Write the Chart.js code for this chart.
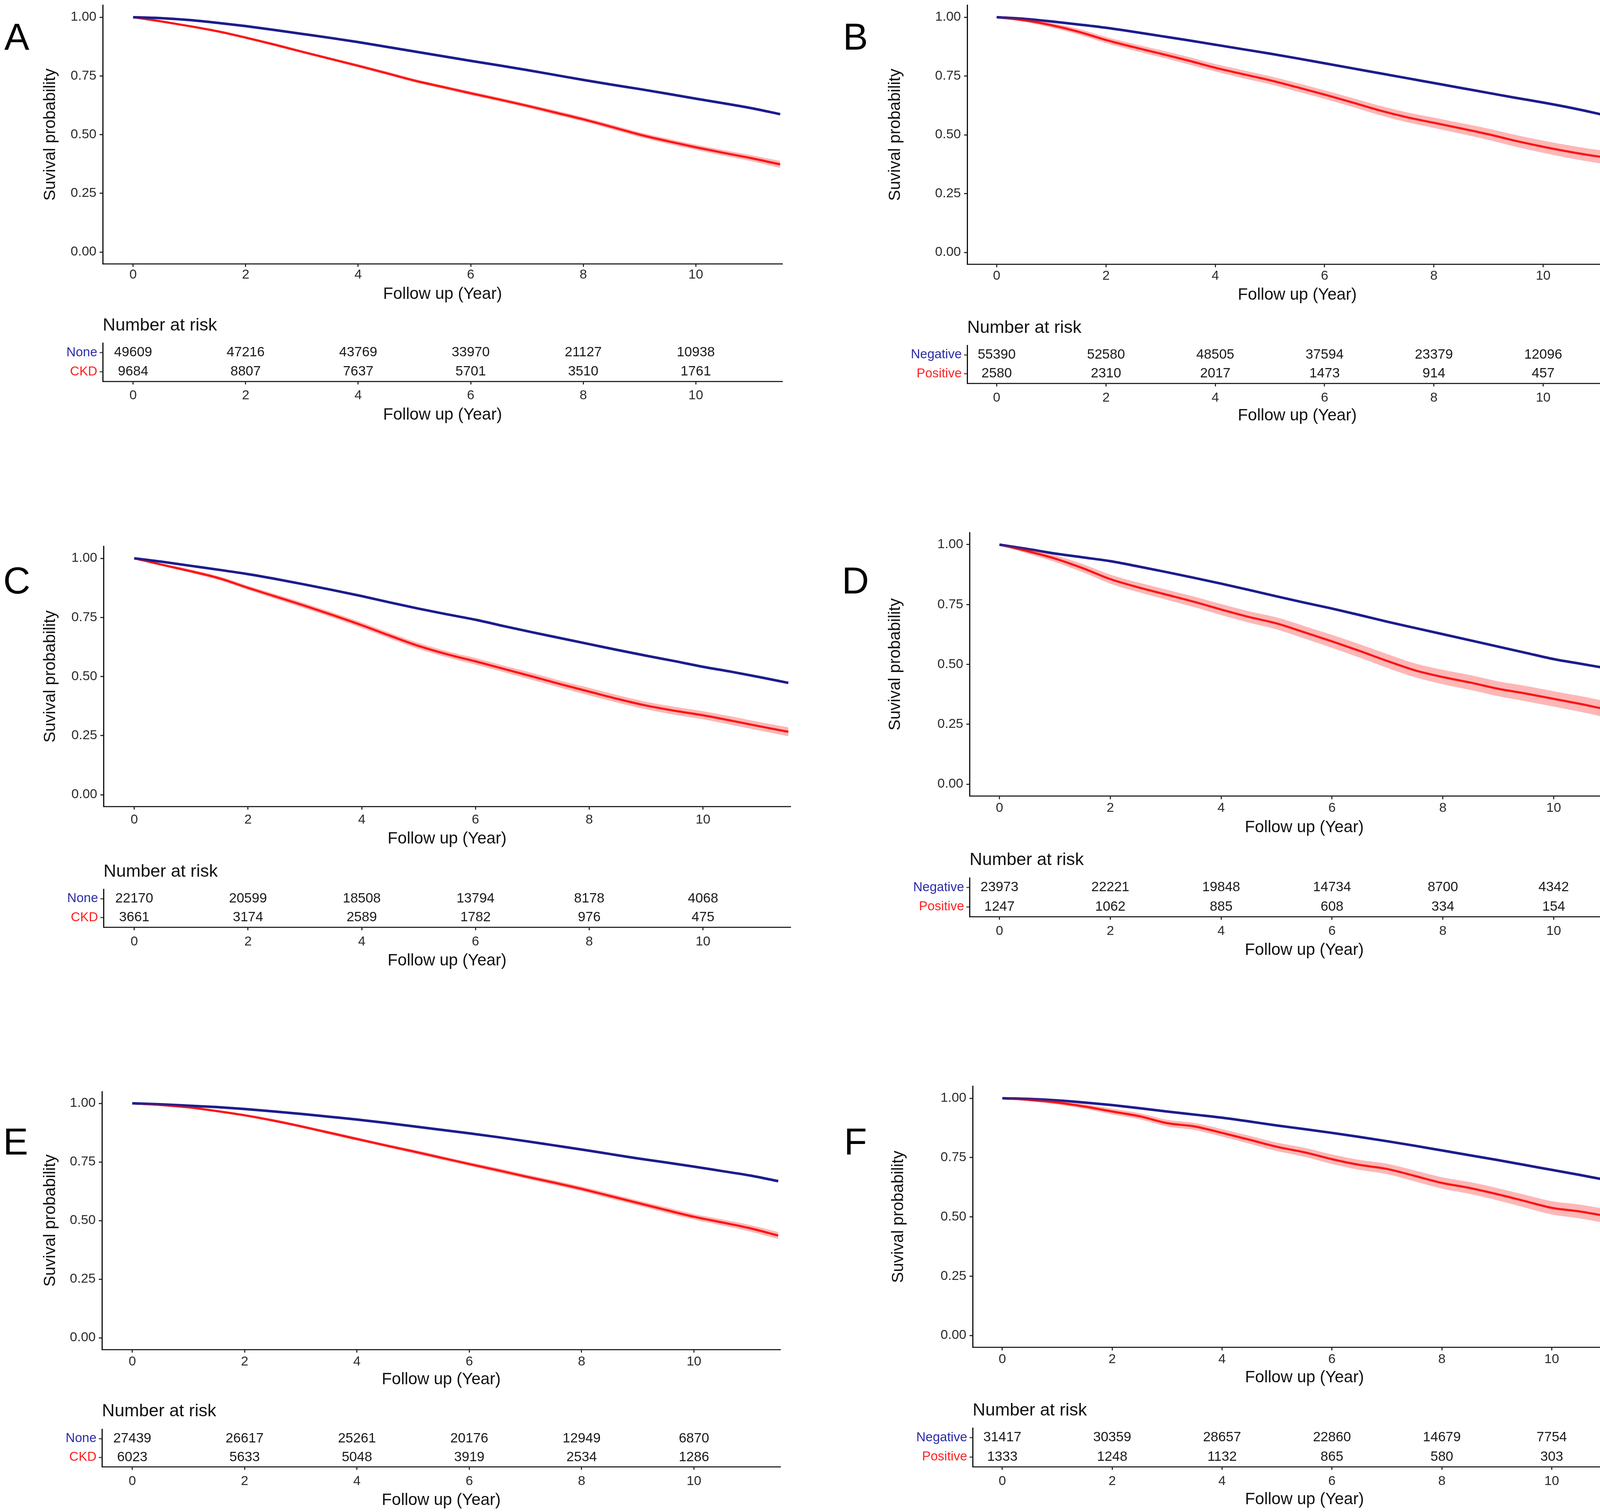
<!DOCTYPE html>
<html><head><meta charset="utf-8">
<script src="https://cdn.jsdelivr.net/npm/chart.js@4.4.0/dist/chart.umd.min.js"></script>
<style>
html,body{margin:0;padding:0;background:#fff;}
#page{position:relative;width:4212px;height:3870px;overflow:hidden;background:#fff;font-family:'Liberation Sans',Arial,sans-serif;}
canvas{position:absolute;}
.letter{position:absolute;transform:translate(-50%,-50%);line-height:1;color:#000;font-size:96px;}
.nar{position:absolute;transform:translateY(-50%);line-height:1;color:#111;font-size:45px;white-space:nowrap;}
</style></head><body><div id="page"></div>
<script>
// ---------------- DATA ----------------
const times = [0,0.5,1,1.5,2,2.5,3,3.5,4,4.5,5,5.5,6,6.5,7,7.5,8,8.5,9,9.5,10,10.5,11,11.5];
const xTicks = [0,2,4,6,8,10];
const yTicks = [0,0.25,0.5,0.75,1];
const riskTimes = [0,2,4,6,8,10];
const panelLetters = ['A','B','C','D','E','F'];
const groupsCKD = ['None','CKD'];
const groupsPN = ['Negative','Positive'];

const survA_ref = [1.000,0.996,0.988,0.976,0.962,0.946,0.929,0.912,0.894,0.874,0.854,0.834,0.814,0.795,0.775,0.754,0.733,0.713,0.694,0.674,0.653,0.633,0.612,0.587];
const survA_grp = [1.000,0.982,0.962,0.940,0.913,0.884,0.853,0.823,0.793,0.762,0.730,0.703,0.676,0.650,0.623,0.594,0.565,0.533,0.500,0.472,0.446,0.422,0.399,0.373];
const ciA = [0,0.003,0.004,0.005,0.005,0.006,0.006,0.006,0.007,0.007,0.007,0.007,0.008,0.008,0.008,0.009,0.009,0.010,0.010,0.011,0.011,0.012,0.013,0.015];

const survB_ref = [1.000,0.993,0.982,0.969,0.955,0.938,0.920,0.902,0.883,0.864,0.845,0.825,0.804,0.783,0.762,0.741,0.720,0.699,0.678,0.657,0.637,0.615,0.590,0.562];
const survB_grp = [1.000,0.987,0.966,0.938,0.903,0.873,0.845,0.816,0.785,0.758,0.732,0.702,0.671,0.638,0.604,0.575,0.551,0.527,0.502,0.474,0.449,0.427,0.408,0.393];
const ciB = [0,0.007,0.010,0.012,0.013,0.014,0.015,0.016,0.016,0.017,0.017,0.018,0.018,0.019,0.020,0.021,0.022,0.023,0.024,0.025,0.026,0.027,0.028,0.030];

const survC_ref = [1.000,0.985,0.968,0.951,0.933,0.912,0.889,0.865,0.840,0.813,0.787,0.763,0.740,0.713,0.687,0.662,0.637,0.612,0.588,0.565,0.541,0.520,0.497,0.473];
const survC_grp = [1.000,0.972,0.945,0.915,0.875,0.837,0.799,0.759,0.717,0.672,0.629,0.594,0.564,0.532,0.500,0.467,0.436,0.405,0.377,0.355,0.336,0.313,0.289,0.266];
const ciC = [0,0.005,0.007,0.008,0.009,0.010,0.011,0.011,0.012,0.012,0.013,0.013,0.014,0.014,0.015,0.015,0.016,0.016,0.016,0.017,0.017,0.018,0.018,0.019];

const survD_ref = [1.000,0.982,0.963,0.947,0.931,0.909,0.886,0.862,0.837,0.811,0.784,0.758,0.733,0.706,0.678,0.652,0.626,0.600,0.574,0.548,0.522,0.502,0.482,0.461];
const survD_grp = [1.000,0.973,0.942,0.902,0.856,0.822,0.792,0.762,0.729,0.698,0.671,0.634,0.596,0.556,0.514,0.475,0.447,0.424,0.398,0.378,0.356,0.334,0.310,0.293];
const ciD = [0,0.010,0.014,0.017,0.019,0.020,0.021,0.022,0.023,0.024,0.025,0.026,0.027,0.028,0.029,0.029,0.030,0.031,0.031,0.032,0.032,0.033,0.034,0.035];

const survE_ref = [1.000,0.996,0.990,0.984,0.976,0.966,0.955,0.943,0.931,0.917,0.902,0.887,0.872,0.856,0.839,0.821,0.803,0.784,0.765,0.748,0.730,0.711,0.692,0.668];
const survE_grp = [1.000,0.993,0.983,0.967,0.949,0.927,0.902,0.875,0.848,0.821,0.795,0.768,0.741,0.715,0.688,0.662,0.635,0.605,0.575,0.545,0.516,0.492,0.467,0.436];
const ciE = [0,0.003,0.004,0.005,0.005,0.006,0.006,0.007,0.007,0.007,0.008,0.008,0.008,0.009,0.009,0.010,0.010,0.011,0.011,0.012,0.012,0.013,0.014,0.015];

const survF_ref = [1.000,0.997,0.991,0.982,0.971,0.958,0.944,0.931,0.918,0.902,0.885,0.870,0.854,0.837,0.819,0.800,0.780,0.760,0.740,0.719,0.698,0.677,0.655,0.634];
const survF_grp = [1.000,0.993,0.982,0.965,0.944,0.924,0.895,0.881,0.854,0.825,0.795,0.772,0.743,0.719,0.702,0.673,0.643,0.622,0.596,0.567,0.538,0.523,0.503,0.486];
const ciF = [0,0.006,0.008,0.010,0.012,0.013,0.014,0.015,0.016,0.017,0.018,0.019,0.020,0.021,0.022,0.023,0.024,0.025,0.026,0.027,0.028,0.029,0.030,0.032];

const riskA_ref = [49609,47216,43769,33970,21127,10938];
const riskA_grp = [9684,8807,7637,5701,3510,1761];
const riskB_ref = [55390,52580,48505,37594,23379,12096];
const riskB_grp = [2580,2310,2017,1473,914,457];
const riskC_ref = [22170,20599,18508,13794,8178,4068];
const riskC_grp = [3661,3174,2589,1782,976,475];
const riskD_ref = [23973,22221,19848,14734,8700,4342];
const riskD_grp = [1247,1062,885,608,334,154];
const riskE_ref = [27439,26617,25261,20176,12949,6870];
const riskE_grp = [6023,5633,5048,3919,2534,1286];
const riskF_ref = [31417,30359,28657,22860,14679,7754];
const riskF_grp = [1333,1248,1132,865,580,303];

// ---------------- LAYOUT (pixels) ----------------
const layout = [
 {cLeft:0,    left:263,  right:2003, y1:44,   y0:645,  yTitleX:129,  xTitleY:753,  xTickY:704,  letterX:43,   letterY:94,
  row1:903,  row2:951,  line:976,  rTickY:1013, rTitleY:1062, narY:830},
 {cLeft:2150, left:2476, right:4166, y1:44,   y0:646,  yTitleX:2292, xTitleY:755,  xTickY:707,  letterX:2190, letterY:94,
  row1:908,  row2:957,  line:981,  rTickY:1019, rTitleY:1064, narY:836},
 {cLeft:0,    left:265,  right:2024, y1:1429, y0:2034, yTitleX:129,  xTitleY:2147, xTickY:2099, letterX:43,   letterY:1486,
  row1:2300, row2:2349, line:2373, rTickY:2411, rTitleY:2459, narY:2228},
 {cLeft:2150, left:2482, right:4196, y1:1394, y0:2007, yTitleX:2292, xTitleY:2118, xTickY:2069, letterX:2190, letterY:1486,
  row1:2271, row2:2322, line:2346, rTickY:2384, rTitleY:2432, narY:2198},
 {cLeft:0,    left:261,  right:1998, y1:2824, y0:3424, yTitleX:129,  xTitleY:3531, xTickY:3486, letterX:40,   letterY:2922,
  row1:3682, row2:3730, line:3754, rTickY:3792, rTitleY:3840, narY:3609},
 {cLeft:2150, left:2490, right:4189, y1:2811, y0:3418, yTitleX:2300, xTitleY:3526, xTickY:3480, letterX:2190, letterY:2922,
  row1:3679, row2:3730, line:3754, rTickY:3792, rTitleY:3838, narY:3607}
];

const panels = [
 {ref:survA_ref, grp:survA_grp, ci:ciA, rRef:riskA_ref, rGrp:riskA_grp, groups:groupsCKD},
 {ref:survB_ref, grp:survB_grp, ci:ciB, rRef:riskB_ref, rGrp:riskB_grp, groups:groupsPN},
 {ref:survC_ref, grp:survC_grp, ci:ciC, rRef:riskC_ref, rGrp:riskC_grp, groups:groupsCKD},
 {ref:survD_ref, grp:survD_grp, ci:ciD, rRef:riskD_ref, rGrp:riskD_grp, groups:groupsPN},
 {ref:survE_ref, grp:survE_grp, ci:ciE, rRef:riskE_ref, rGrp:riskE_grp, groups:groupsCKD},
 {ref:survF_ref, grp:survF_grp, ci:ciF, rRef:riskF_ref, rGrp:riskF_grp, groups:groupsPN}
];

// ---------------- STYLE ----------------
const FONT = "'Liberation Sans', Arial, sans-serif";
const BLUE = '#1c1c8e', RED = '#ff0f0f', BAND = 'rgba(248,30,30,0.32)';
const LBL_BLUE = '#2a2aa8', LBL_RED = '#ff2020';
const X_MIN = -0.54, X_MAX = 11.54;
const TICK_SIZE = 34, TITLE_SIZE = 42, NUM_SIZE = 35;
const TICK_LEN = 8;
const page = document.getElementById('page');

function addCanvas(left, top, w, h) {
  const c = document.createElement('canvas');
  c.width = w; c.height = h;
  c.style.left = left + 'px'; c.style.top = top + 'px';
  c.style.width = w + 'px'; c.style.height = h + 'px';
  page.appendChild(c);
  return c;
}
function pts(xs, ys) { return xs.map((x, i) => ({x: x, y: ys[i]})); }

function xAxisCfg(L, axisTop, boxBottom, tickCenter, titleCenter) {
  const lhTick = TICK_SIZE * 1.2, lhTitle = TITLE_SIZE * 1.2;
  return {
    type: 'linear', min: X_MIN, max: X_MAX,
    afterBuildTicks: s => { s.ticks = xTicks.map(v => ({value: v})); },
    ticks: {font: {family: FONT, size: TICK_SIZE}, color: '#2b2b2b', autoSkip: false, maxRotation: 0,
            padding: Math.max(0, tickCenter - axisTop - TICK_LEN - lhTick / 2),
            callback: v => String(v)},
    grid: {display: true, drawOnChartArea: false, drawTicks: true, tickLength: TICK_LEN, tickColor: '#333', tickWidth: 3},
    border: {display: true, color: '#2a2a2a', width: 3},
    title: {display: true, text: 'Follow up (Year)', color: '#111', font: {family: FONT, size: TITLE_SIZE},
            padding: {top: 0, bottom: Math.max(0, boxBottom - titleCenter - lhTitle / 2)}},
    afterFit: s => { s.height = boxBottom - axisTop; }
  };
}

function survivalChart(L, P) {
  const unit = L.y0 - L.y1;
  const top = L.y1 - 0.05 * unit, bottom = L.y0 + 0.05 * unit;
  const padT = 50, padR = 14;
  const cTop = Math.floor(top - padT);
  const cH = Math.ceil(L.xTitleY + TITLE_SIZE * 0.6 + 4 - cTop);
  const cW = Math.ceil(L.right + padR - L.cLeft);
  const canvas = addCanvas(L.cLeft, cTop, cW, cH);
  const hi = P.grp.map((v, i) => Math.min(1, v + P.ci[i]));
  const lo = P.grp.map((v, i) => v - P.ci[i]);
  const lhTitle = TITLE_SIZE * 1.2;
  new Chart(canvas, {
    type: 'line',
    data: {datasets: [
      {data: pts(times, hi), borderWidth: 0, borderColor: 'rgba(0,0,0,0)', pointRadius: 0, fill: '+1', backgroundColor: BAND},
      {data: pts(times, lo), borderWidth: 0, borderColor: 'rgba(0,0,0,0)', pointRadius: 0, fill: false},
      {data: pts(times, P.ref), borderColor: BLUE, borderWidth: 6.5, pointRadius: 0, fill: false},
      {data: pts(times, P.grp), borderColor: RED, borderWidth: 5.5, pointRadius: 0, fill: false}
    ]},
    options: {
      responsive: false, animation: false, devicePixelRatio: 1,
      layout: {padding: {top: top - cTop, right: cW - (L.right - L.cLeft), left: 0, bottom: 0}},
      plugins: {legend: {display: false}, tooltip: {enabled: false}, title: {display: false}},
      elements: {line: {cubicInterpolationMode: 'monotone'}},
      scales: {
        x: xAxisCfg(L, bottom - cTop, cH, L.xTickY - cTop, L.xTitleY - cTop),
        y: {
          type: 'linear', min: -0.05, max: 1.05,
          afterBuildTicks: s => { s.ticks = yTicks.map(v => ({value: v})); },
          ticks: {font: {family: FONT, size: TICK_SIZE}, color: '#2b2b2b', padding: 8, callback: v => Number(v).toFixed(2)},
          grid: {display: true, drawOnChartArea: false, drawTicks: true, tickLength: TICK_LEN, tickColor: '#333', tickWidth: 3},
          border: {display: true, color: '#111', width: 3},
          title: {display: true, text: 'Suvival probability', color: '#111', font: {family: FONT, size: TITLE_SIZE},
                  padding: {top: L.yTitleX - L.cLeft - lhTitle / 2, bottom: 0}},
          afterFit: s => { s.width = L.left - L.cLeft; }
        }
      }
    }
  });
}

const riskLabelsPlugin = {
  id: 'riskLabels',
  afterDatasetsDraw(chart) {
    const ctx = chart.ctx;
    ctx.save();
    ctx.font = NUM_SIZE + 'px ' + FONT;
    ctx.fillStyle = '#1a1a1a';
    ctx.textAlign = 'center';
    ctx.textBaseline = 'middle';
    chart.data.datasets.forEach((ds, d) => {
      const meta = chart.getDatasetMeta(d);
      meta.data.forEach((el, i) => { ctx.fillText(String(ds.data[i].n), el.x, el.y); });
    });
    ctx.restore();
  }
};

function riskChart(L, P) {
  const half = L.line - L.row2;
  const top = L.row1 - half, bottom = L.line;
  const padT = 40, padR = 14;
  const cTop = Math.floor(top - padT);
  const cH = Math.ceil(L.rTitleY + TITLE_SIZE * 0.6 + 4 - cTop);
  const cW = Math.ceil(L.right + padR - L.cLeft);
  const canvas = addCanvas(L.cLeft, cTop, cW, cH);
  const rowColors = [LBL_BLUE, LBL_RED];
  new Chart(canvas, {
    type: 'line',
    data: {datasets: [
      {data: riskTimes.map((t, i) => ({x: t, y: P.groups[0], n: P.rRef[i]})), showLine: false, pointRadius: 0},
      {data: riskTimes.map((t, i) => ({x: t, y: P.groups[1], n: P.rGrp[i]})), showLine: false, pointRadius: 0}
    ]},
    options: {
      responsive: false, animation: false, devicePixelRatio: 1,
      layout: {padding: {top: top - cTop, right: cW - (L.right - L.cLeft), left: 0, bottom: 0}},
      plugins: {legend: {display: false}, tooltip: {enabled: false}},
      scales: {
        x: xAxisCfg(L, bottom - cTop, cH, L.rTickY - cTop, L.rTitleY - cTop),
        y: {
          type: 'category', labels: P.groups, offset: true,
          ticks: {font: {family: FONT, size: 33}, color: c => rowColors[c.index], padding: 6},
          grid: {display: true, drawOnChartArea: false, drawTicks: true, tickLength: TICK_LEN, tickColor: '#555', tickWidth: 3, offset: false},
          border: {display: true, color: '#111', width: 3},
          afterFit: s => { s.width = L.left - L.cLeft; }
        }
      }
    },
    plugins: [riskLabelsPlugin]
  });
}

layout.forEach((L, k) => {
  survivalChart(L, panels[k]);
  riskChart(L, panels[k]);
  const letter = document.createElement('div');
  letter.className = 'letter';
  letter.textContent = panelLetters[k];
  letter.style.left = L.letterX + 'px';
  letter.style.top = L.letterY + 'px';
  page.appendChild(letter);
  const nar = document.createElement('div');
  nar.className = 'nar';
  nar.textContent = 'Number at risk';
  nar.style.left = L.left + 'px';
  nar.style.top = L.narY + 'px';
  page.appendChild(nar);
});
</script>
</body></html>
